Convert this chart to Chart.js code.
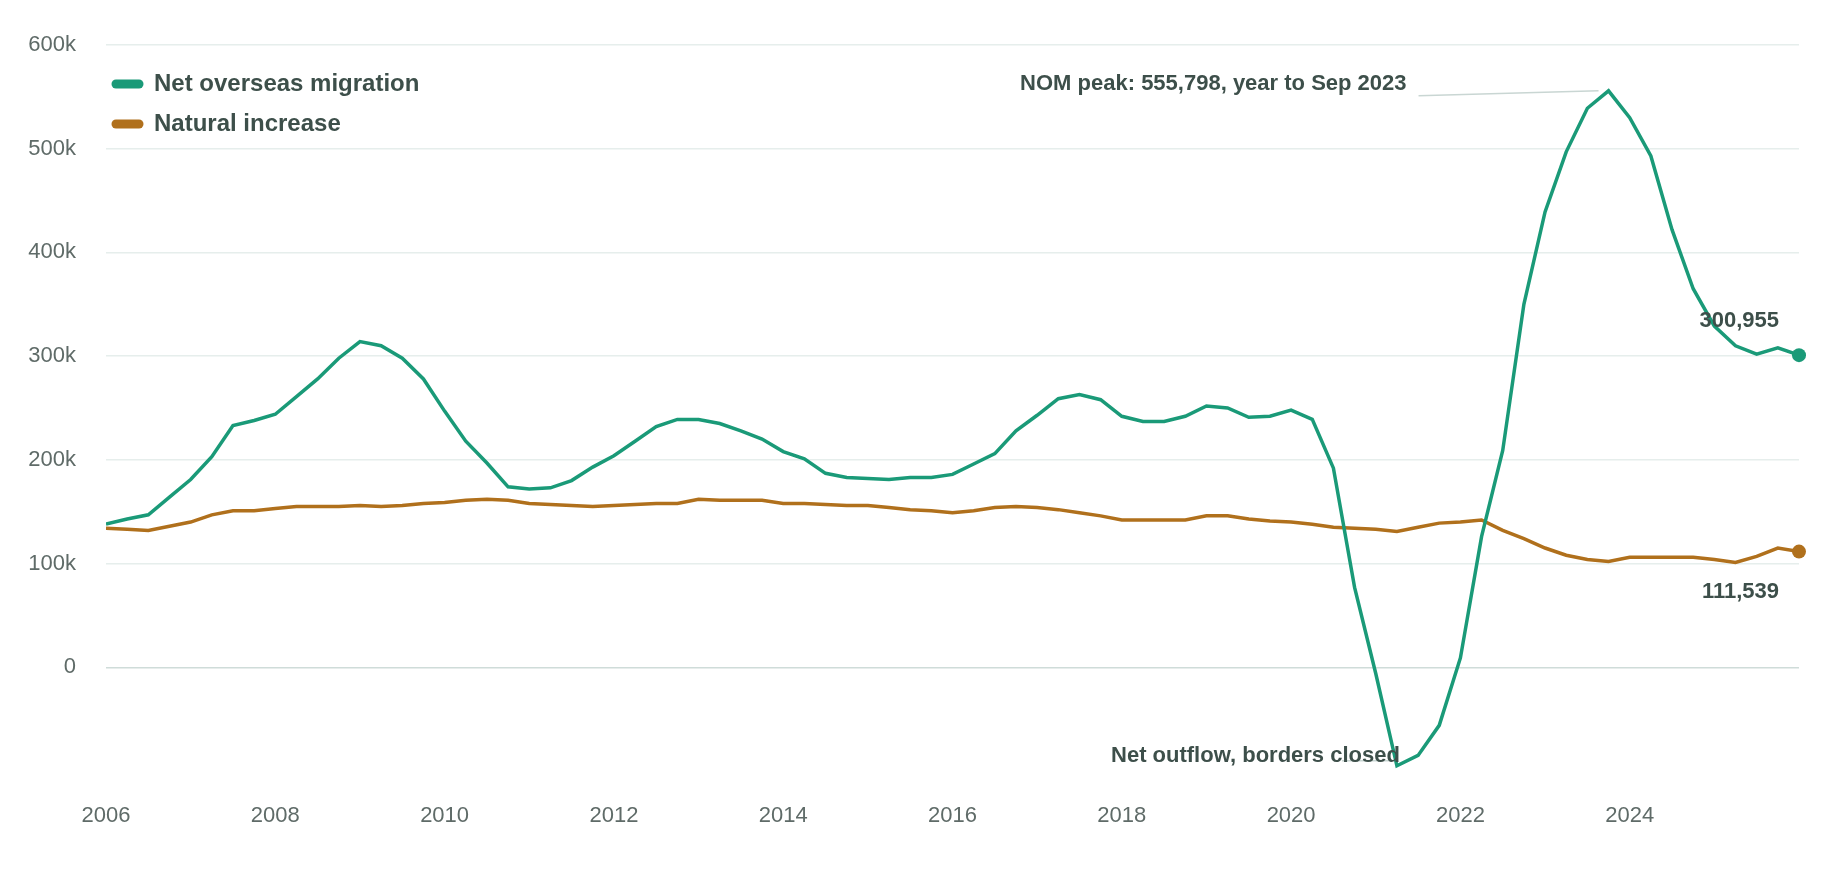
<!DOCTYPE html>
<html>
<head>
<meta charset="utf-8">
<script src="https://cdn.jsdelivr.net/npm/chart.js@4.4.1/dist/chart.umd.min.js"></script>
<style>
  html, body { margin: 0; padding: 0; background: #fff; }
  #wrap { width: 1840px; height: 880px; }
</style>
</head>
<body>
<div id="wrap"><canvas id="chart"></canvas></div>
<script>
/*********** data (quarterly, thousands) ***********/
const startYear = 2006;
const migration = [138, 143, 147, 164, 181, 203, 233, 238, 244, 261, 278, 298, 314, 310, 298, 278,
  247, 218, 197, 174, 172, 173, 180, 193, 204, 218, 232, 239, 239, 235, 228, 220,
  208, 201, 187, 183, 182, 181, 183, 183, 186, 196, 206, 228, 243, 259, 263, 258,
  242, 237, 237, 242, 252, 250, 241, 242, 248, 239, 192, 77, -6, -95, -85, -56,
  9, 126, 209, 350, 439, 497, 539, 555.798, 530, 493, 422, 365, 329, 310, 302, 308, 300.955];
const natural = [134, 133, 132, 136, 140, 147, 151, 151, 153, 155, 155, 155, 156, 155, 156, 158,
  159, 161, 162, 161, 158, 157, 156, 155, 156, 157, 158, 158, 162, 161, 161, 161,
  158, 158, 157, 156, 156, 154, 152, 151, 149, 151, 154, 155, 154, 152, 149, 146,
  142, 142, 142, 142, 146, 146, 143, 141, 140, 138, 135, 134, 133, 131, 135, 139,
  140, 142, 132, 124, 115, 108, 104, 102, 106, 106, 106, 106, 104, 101, 107, 115, 111.539];
const yearTicks = [2006, 2008, 2010, 2012, 2014, 2016, 2018, 2020, 2022, 2024];
const labels = ['Net overseas migration', 'Natural increase'];

const green = '#1a9a78';
const brown = '#b0701c';
const textDark = '#3d4f4a';
const textGrey = '#5f6b68';

function toPoints(arr) {
  return arr.map((v, i) => ({ x: startYear + i / 4, y: v * 1000 }));
}

/*********** annotations + legend plugin ***********/
const notes = {
  id: 'notes',
  afterDatasetsDraw(chart) {
    const ctx = chart.ctx;
    const xs = chart.scales.x, ys = chart.scales.y;
    ctx.save();
    ctx.font = 'bold 22px "Liberation Sans", Arial, sans-serif';
    ctx.fillStyle = textDark;

    // peak
    const pk = 71;
    const px = xs.getPixelForValue(startYear + pk / 4), py = ys.getPixelForValue(migration[pk] * 1000);
    ctx.strokeStyle = '#c9d6d3';
    ctx.lineWidth = 1.5;
    ctx.beginPath();
    ctx.moveTo(px - 190, py + 5);
    ctx.lineTo(px - 10, py);
    ctx.stroke();
    ctx.textAlign = 'right';
    ctx.textBaseline = 'middle';
    ctx.fillText('NOM peak: 555,798, year to Sep 2023', px - 202, py - 7);

    // trough
    const tr = 61;
    const tx = xs.getPixelForValue(startYear + tr / 4), ty = ys.getPixelForValue(migration[tr] * 1000);
    ctx.beginPath();
    ctx.moveTo(tx - 55, ty - 5);
    ctx.lineTo(tx - 8, ty - 5);
    ctx.stroke();
    ctx.fillText('Net outflow, borders closed', tx + 3, ty - 10);

    // end values
    const last = migration.length - 1;
    const ex = xs.getPixelForValue(startYear + last / 4);
    const gy = ys.getPixelForValue(migration[last] * 1000);
    const by = ys.getPixelForValue(natural[last] * 1000);
    ctx.fillText('300,955', ex - 20, gy - 34);
    ctx.fillText('111,539', ex - 20, by + 40);
    [[gy, green], [by, brown]].forEach(([y, c]) => {
      ctx.fillStyle = c;
      ctx.beginPath();
      ctx.arc(ex, y, 7, 0, Math.PI * 2);
      ctx.fill();
    });

    // legend
    ctx.textAlign = 'left';
    ctx.font = 'bold 24px "Liberation Sans", Arial, sans-serif';
    [[green, labels[0], 84], [brown, labels[1], 124]].forEach(([c, t, y]) => {
      ctx.strokeStyle = c;
      ctx.lineWidth = 9;
      ctx.lineCap = 'round';
      ctx.beginPath();
      ctx.moveTo(116, y);
      ctx.lineTo(139, y);
      ctx.stroke();
      ctx.fillStyle = textDark;
      ctx.fillText(t, 154, y);
    });
    ctx.restore();
  }
};

/*********** chart ***********/
new Chart(document.getElementById('chart'), {
  type: 'line',
  data: {
    datasets: [
      { label: labels[0], data: toPoints(migration), borderColor: green, borderWidth: 3.5, pointRadius: 0, tension: 0 },
      { label: labels[1], data: toPoints(natural), borderColor: brown, borderWidth: 3.5, pointRadius: 0, tension: 0 }
    ]
  },
  options: {
    responsive: true,
    maintainAspectRatio: false,
    animation: false,
    layout: { padding: { top: 45, right: 41, left: 0, bottom: 0 } },
    plugins: { legend: { display: false }, tooltip: { enabled: false } },
    scales: {
      x: {
        type: 'linear',
        min: 2006,
        max: 2026,
        grid: { display: false },
        border: { display: false },
        afterBuildTicks: (s) => { s.ticks = yearTicks.map(v => ({ value: v })); },
        afterFit: (s) => { s.height = 109; },
        ticks: {
          color: textGrey,
          font: { size: 22, family: '"Liberation Sans", Arial, sans-serif' },
          padding: 24,
          maxRotation: 0,
          callback: (v) => String(v)
        }
      },
      y: {
        min: -100000,
        max: 600000,
        border: { display: false },
        grid: {
          color: (c) => c.tick && c.tick.value === 0 ? '#cfdcd9' : '#e6eeec',
          lineWidth: 1.5,
          drawTicks: false
        },
        afterFit: (s) => { s.width = 106; },
        ticks: {
          stepSize: 100000,
          color: textGrey,
          padding: 30,
          font: { size: 22, family: '"Liberation Sans", Arial, sans-serif' },
          callback: (v) => v < 0 ? null : (v === 0 ? '0' : (v / 1000) + 'k')
        }
      }
    }
  },
  plugins: [notes]
});
</script>
</body>
</html>
